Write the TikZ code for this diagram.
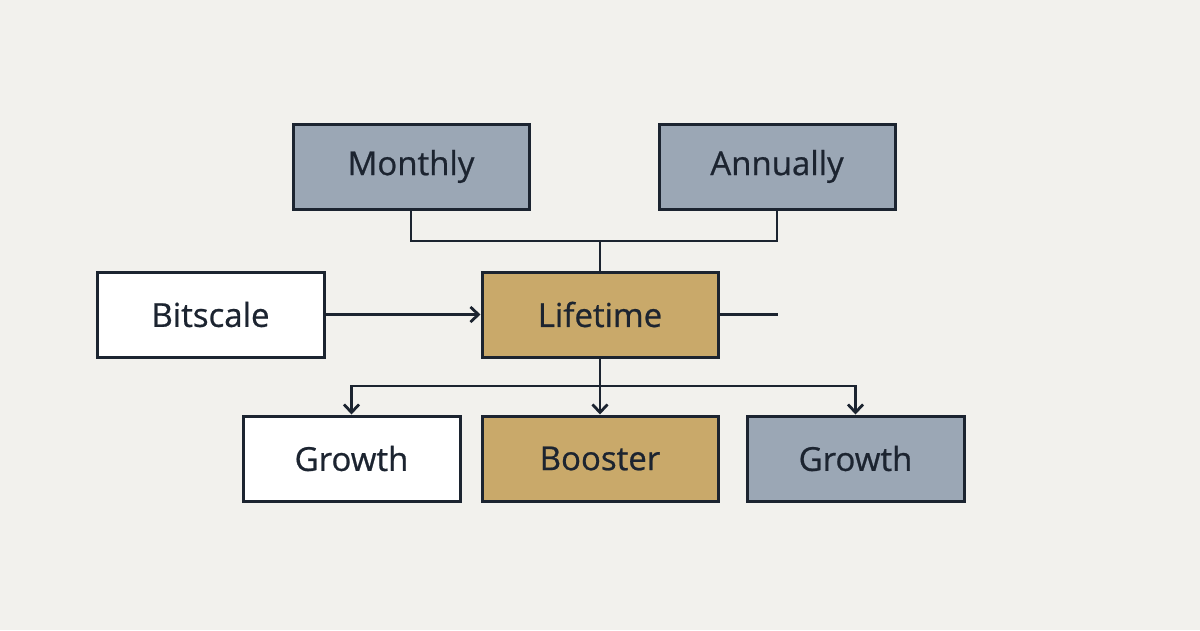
\documentclass[tikz,border=0pt]{standalone}
\usepackage{fontspec}
\setmainfont{Open Sans}[BoldFont={Open Sans}, BoldFeatures={FakeBold=0.7}]
\usetikzlibrary{positioning,arrows.meta}
\definecolor{bg}{HTML}{F2F1ED}
\definecolor{ink}{HTML}{1C2430}
\definecolor{slate}{HTML}{9BA7B5}
\definecolor{gold}{HTML}{C9A96A}
\tikzset{
  box/.style={draw=ink, line width=3pt, minimum height=85pt, text=ink,
    font=\fontsize{33}{38}\selectfont\bfseries, inner sep=0pt},
  link/.style={draw=ink, line width=2.8pt},
  arr/.style={link, -{Straight Barb[length=8pt,width=15pt]}}
}
\begin{document}
\begin{tikzpicture}[x=1pt, y=-1pt]
  \fill[bg] (0,0) rectangle (1200,630);
  \useasboundingbox (0,0) rectangle (1200,630);

  % Top row
  \node[box, fill=slate, minimum width=236pt] (monthly) at (411,166.5) {Monthly};
  \node[box, fill=slate, minimum width=236pt] (annually) at (777,166.5) {Annually};

  % Middle row
  \node[box, fill=white, minimum width=227pt] (bitscale) at (210.5,314.5) {Bitscale};
  \node[box, fill=gold, minimum width=236pt] (lifetime) at (600,314.5) {Lifetime};

  % Bottom row
  \node[box, fill=white, minimum width=217pt] (growthA) at (351.5,458.5) {Growth};
  \node[box, fill=gold, minimum width=236pt] (booster) at (600,458.5) {Booster};
  \node[box, fill=slate, minimum width=217pt] (growthB) at (855.5,458.5) {Growth};

  \coordinate (join) at (600,241);
  \coordinate (split) at (600,386);
  \coordinate (stub) at (778,314.5);

  % Connectors
  \draw[link] (monthly.south) |- (join) -| (annually.south);
  \draw[link] (join) -- (lifetime.north);
  \draw[link] (lifetime.east) -- (stub);
  \draw[arr] (bitscale.east) -- (lifetime.west);
  \draw[link] (lifetime.south) -- (split);
  \draw[arr] (split) -| (growthA.north);
  \draw[arr] (split) -- (booster.north);
  \draw[arr] (split) -| (growthB.north);
\end{tikzpicture}
\end{document}
